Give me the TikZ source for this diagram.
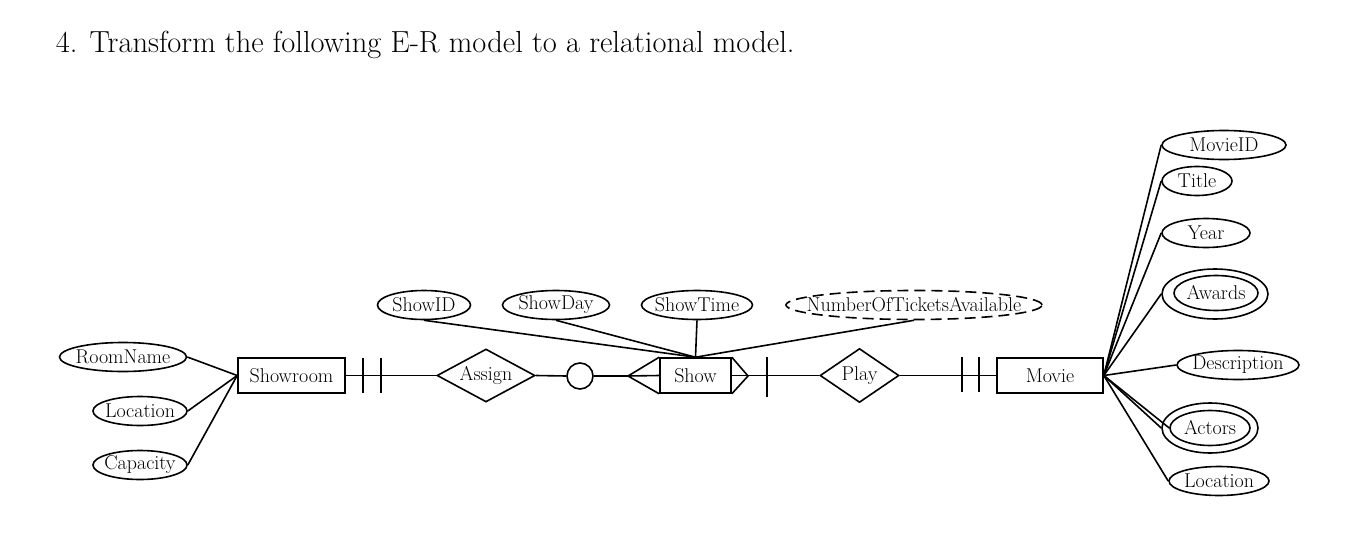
\documentclass[tikz,border=0pt]{standalone}
\usepackage{fontspec}
\usetikzlibrary{shapes.geometric}

\newcommand{\erfont}{\fontsize{20}{24}\selectfont}

\begin{document}
\begin{tikzpicture}[x=1pt,y=-1pt,line width=1.6pt,
    entity/.style={draw,rectangle,inner sep=0pt,minimum height=35pt,font=\erfont},
    relation/.style={draw,diamond,inner xsep=-14pt,inner ysep=-8pt,font=\erfont},
    attr/.style={draw,ellipse,inner ysep=0pt,inner xsep=-22pt,minimum height=29pt,font=\erfont},
    derived/.style={attr,dash pattern=on 11pt off 6pt}]
    \useasboundingbox (0,0) rectangle (1358,546);

    % Title
    \node[anchor=base west,inner sep=0pt,font=\fontsize{30.5}{34}\selectfont] (title) at (55,52)
        {4. Transform the following E-R model to a relational model.};

    % Entities and relationships
    \node[entity,minimum width=107pt] (showroom) at (291.5,375.5) {Showroom};
    \node[relation,minimum width=98pt,minimum height=53pt] (assign) at (486,375.5) {Assign};
    \node[draw,circle,inner sep=0pt,minimum size=26pt] (opt) at (580,376) {};
    \node[entity,minimum width=71pt] (show) at (695.5,375.5) {Show};
    \node[relation,minimum width=79pt,minimum height=54pt] (play) at (859.5,375.5) {Play};
    \node[entity,minimum width=106pt] (movie) at (1050,375.5) {Movie};

    % Showroom attributes
    \node[attr,minimum width=127pt] (roomname) at (123,357) {RoomName};
    \node[attr,minimum width=94pt] (srloc) at (140,411) {Location};
    \node[attr,minimum width=94pt] (capacity) at (140,465) {Capacity};

    % Show attributes
    \node[attr,minimum width=93pt] (showid) at (424,305) {ShowID};
    \node[attr,minimum width=107pt] (showday) at (556,305) {ShowDay};
    \node[attr,minimum width=111pt] (showtime) at (697,305) {ShowTime};
    \node[derived,minimum width=256pt] (tickets) at (914,305) {NumberOfTicketsAvailable};

    % Movie attributes
    \node[attr,minimum width=124pt] (movieid) at (1224,145) {MovieID};
    \node[attr,minimum width=70pt] (title2) at (1197,181) {Title};
    \node[attr,minimum width=88pt] (year) at (1206,233) {Year};
    \node[attr,minimum width=106pt,minimum height=50pt] (awards) at (1215,294) {};
    \node[attr,minimum width=84pt,minimum height=35pt] (awardsin) at (1216,293) {Awards};
    \node[attr,minimum width=122pt] (descr) at (1238,365) {Description};
    \node[attr,minimum width=96pt,minimum height=50pt] (actors) at (1210,428) {};
    \node[attr,minimum width=80pt,minimum height=35pt] (actorsin) at (1210,428) {Actors};
    \node[attr,minimum width=100pt] (mvloc) at (1219,481) {Location};

    % Attribute links
    \foreach \a in {roomname,srloc,capacity}
        \draw (\a.east) -- (showroom.west);
    \foreach \a in {showid,showday,showtime,tickets}
        \draw (\a.south) -- (show.north);
    \foreach \a in {movieid,title2,year,awards,descr,actors,actorsin,mvloc}
        \draw (\a.west) -- (movie.east);

    % Relationship lines
    \coordinate (foot) at (628,376);
    \coordinate (tip) at (748,376);
    \draw (showroom.east) -- (assign.west);
    \draw (assign.east) -- (opt.west);
    \draw (opt.east) -- (foot) -- (show.west);
    \draw (show.north west) -- (foot) -- (show.south west);
    \draw (show.north east) -- (tip) -- (show.south east);
    \draw (show.east) -- (play.west);
    \draw (play.east) -- (movie.west);

    % Cardinality ticks
    \draw (363,358) -- (363,393);
    \draw (381,358) -- (381,393);
    \draw (767,357) -- (767,397);
    \draw (962,357) -- (962,392);
    \draw (979,357) -- (979,392);
\end{tikzpicture}
\end{document}
